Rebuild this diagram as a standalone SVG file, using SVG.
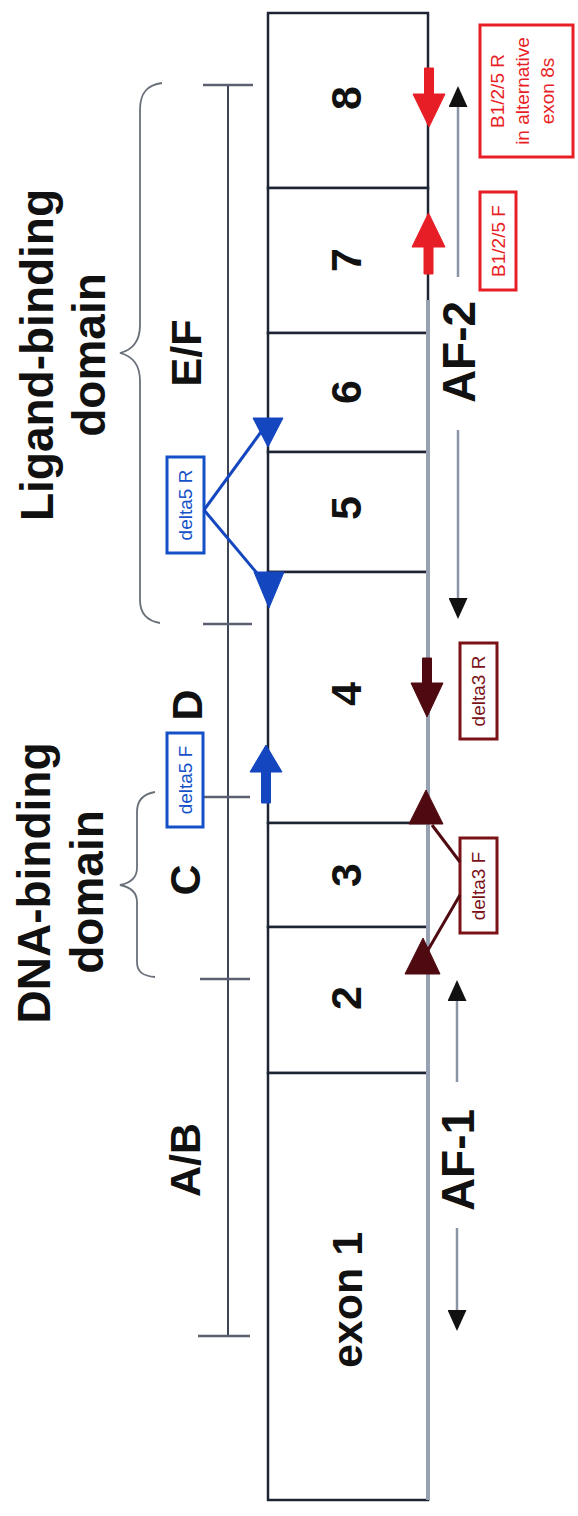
<svg xmlns="http://www.w3.org/2000/svg" width="578" height="1516" viewBox="0 0 578 1516">
<style>
.ex{fill:#fff;stroke:#1d2535;stroke-width:2.5}
.num{font-family:"Liberation Sans",Arial,sans-serif;font-weight:bold;font-size:43px;fill:#111;text-anchor:middle}
.lbl{font-family:"Liberation Sans",Arial,sans-serif;font-weight:bold;font-size:46px;fill:#111;text-anchor:middle}
.dom{font-family:"Liberation Sans",Arial,sans-serif;font-weight:bold;font-size:43px;fill:#111;text-anchor:middle}
.pt{font-family:"Liberation Sans",Arial,sans-serif;font-size:19px;text-anchor:middle}
.brace{fill:none;stroke:#6a707a;stroke-width:1.8}
.tick{stroke:#5a6070;stroke-width:2.5}
.af{stroke:#8a94a4;stroke-width:2.5;fill:none;marker-end:url(#ah)}
.blue{fill:#1446c0;stroke:#1446c0}
.red{fill:#e81e26;stroke:#e81e26}
.mar{fill:#4e0a10;stroke:#4e0a10}
</style>
<defs>
<marker id="ah" viewBox="0 0 10 10" refX="0" refY="5" markerWidth="21" markerHeight="19" markerUnits="userSpaceOnUse" orient="auto" preserveAspectRatio="none">
<path d="M0,0 L10,5 L0,10 Z" fill="#111"/>
</marker>
</defs>
<rect width="578" height="1516" fill="#fff"/>

<g id="exon-8"><rect class="ex" x="268" y="13" width="160" height="175"/><text class="num" transform="translate(361,98) rotate(-90)">8</text></g>
<g id="exon-7"><rect class="ex" x="268" y="188" width="160" height="145"/><text class="num" transform="translate(361,260) rotate(-90)">7</text></g>
<g id="exon-6"><rect class="ex" x="268" y="333" width="160" height="119"/><text class="num" transform="translate(361,392) rotate(-90)">6</text></g>
<g id="exon-5"><rect class="ex" x="268" y="452" width="160" height="120"/><text class="num" transform="translate(361,508) rotate(-90)">5</text></g>
<g id="exon-4"><rect class="ex" x="268" y="572" width="160" height="251"/><text class="num" transform="translate(361,694) rotate(-90)">4</text></g>
<g id="exon-3"><rect class="ex" x="268" y="823" width="160" height="104"/><text class="num" transform="translate(361,875) rotate(-90)">3</text></g>
<g id="exon-2"><rect class="ex" x="268" y="927" width="160" height="146"/><text class="num" transform="translate(361,998) rotate(-90)">2</text></g>
<g id="exon-1"><rect class="ex" x="268" y="1073" width="160" height="427"/><text class="num" transform="translate(362,1300) rotate(-90)">exon 1</text></g>
<line x1="428" y1="300" x2="428" y2="1500" stroke="#97a1b2" stroke-width="4"/>

<g id="domain-scale">
<line x1="228" y1="85" x2="228" y2="1336" stroke="#3e4556" stroke-width="2"/>
<line class="tick" x1="203" y1="85" x2="253" y2="85"/>
<line class="tick" x1="203" y1="624" x2="252" y2="624"/>
<line class="tick" x1="203" y1="797" x2="250" y2="797"/>
<line class="tick" x1="200" y1="979" x2="250" y2="979"/>
<line class="tick" x1="198" y1="1336" x2="250" y2="1336"/>
</g>
<g id="label-EF"><text class="dom" transform="translate(201,353) rotate(-90)">E/F</text></g>
<g id="label-D"><text class="dom" transform="translate(202,705) rotate(-90)">D</text></g>
<g id="label-C"><text class="dom" transform="translate(200,880) rotate(-90)">C</text></g>
<g id="label-AB"><text class="dom" transform="translate(200,1160) rotate(-90)">A/B</text></g>

<g id="ligand-binding-domain">
<path class="brace" d="M162,83 C148,85 140,92 140,110 L140,325 C140,342 132,350 120,353 C132,356 140,364 140,381 L140,600 C140,614 148,621 160,623"/>
<text class="lbl" transform="translate(53,355) rotate(-90)">Ligand-binding</text>
<text class="lbl" transform="translate(105,355) rotate(-90)">domain</text>
</g>
<g id="dna-binding-domain">
<path class="brace" d="M155,792 C143,794 137,800 137,812 L137,868 C137,878 130,883 120,885 C130,887 137,892 137,902 L137,962 C137,972 143,976 155,977"/>
<text class="lbl" transform="translate(50,883) rotate(-90)">DNA-binding</text>
<text class="lbl" transform="translate(103,892) rotate(-90)">domain</text>
</g>

<g id="AF-2"><text class="lbl" font-size="45" transform="translate(475,352) rotate(-90)">AF-2</text></g>
<g id="AF-1"><text class="lbl" font-size="45" transform="translate(474,1160) rotate(-90)">AF-1</text></g>

<g id="primer-delta5R"><rect x="167" y="457" width="37" height="96" fill="#fff" stroke="#1450c8" stroke-width="3"/><text class="pt" fill="#1450c8" transform="translate(192,505) rotate(-90)">delta5 R</text></g>
<g id="primer-delta5F"><rect x="167" y="733" width="36" height="94" fill="#fff" stroke="#1450c8" stroke-width="3"/><text class="pt" fill="#1450c8" transform="translate(192,780) rotate(-90)">delta5 F</text></g>
<g id="primer-delta3R"><rect x="460" y="643" width="37" height="96" fill="#fff" stroke="#7a1218" stroke-width="3"/><text class="pt" fill="#7a1218" transform="translate(485,691) rotate(-90)">delta3 R</text></g>
<g id="primer-delta3F"><rect x="460" y="838" width="37" height="95" fill="#fff" stroke="#7a1218" stroke-width="3"/><text class="pt" fill="#7a1218" transform="translate(485,886) rotate(-90)">delta3 F</text></g>
<g id="primer-B125F"><rect x="480" y="192" width="36" height="98" fill="#fff" stroke="#e81e26" stroke-width="3"/><text class="pt" fill="#e81e26" transform="translate(505,241) rotate(-90)">B1/2/5 F</text></g>
<g id="primer-B125R"><rect x="480" y="25" width="93" height="132" fill="#fff" stroke="#e81e26" stroke-width="3"/>
<text class="pt" fill="#e81e26" transform="translate(504,91) rotate(-90)">B1/2/5 R</text>
<text class="pt" fill="#e81e26" transform="translate(529,91) rotate(-90)">in alternative</text>
<text class="pt" fill="#e81e26" transform="translate(554,91) rotate(-90)">exon 8s</text>
</g>

<g id="connectors">
<line class="af" x1="458" y1="277" x2="458" y2="107"/>
<line class="af" x1="458" y1="430" x2="458" y2="598"/>
<line class="af" x1="457" y1="1082" x2="457" y2="1001"/>
<line class="af" x1="457" y1="1228" x2="457" y2="1310"/>
<path class="red" stroke-width="1" d="M424.5,68 H433.5 V94 H445 L429,127 L413,94 H424.5 Z"/>
<path class="red" stroke-width="1" d="M428.5,213 L445,247 H433 V274 H424 V247 H412 Z"/>
<path class="mar" stroke-width="1" d="M422.5,658 H431.5 V683 H443 L427,717 L411,683 H422.5 Z"/>
<path class="blue" stroke-width="1" d="M266,745 L282,772 H270.5 V803 H261.5 V772 H250 Z"/>
<polygon class="blue" points="253,418 283,418 268,447"/>
<polygon class="blue" points="254,572 284,572 269,608"/>
<line x1="204" y1="510" x2="261" y2="432" stroke="#1446c0" stroke-width="3"/>
<line x1="204" y1="510" x2="261" y2="578" stroke="#1446c0" stroke-width="3"/>
<polygon class="mar" points="426,790 409,824 443,824"/>
<polygon class="mar" points="423,938 405,974 440,974"/>
<line x1="460" y1="862" x2="432" y2="825" stroke="#4e0a10" stroke-width="3"/>
<line x1="460" y1="895" x2="428" y2="950" stroke="#4e0a10" stroke-width="3"/>
</g>
</svg>
